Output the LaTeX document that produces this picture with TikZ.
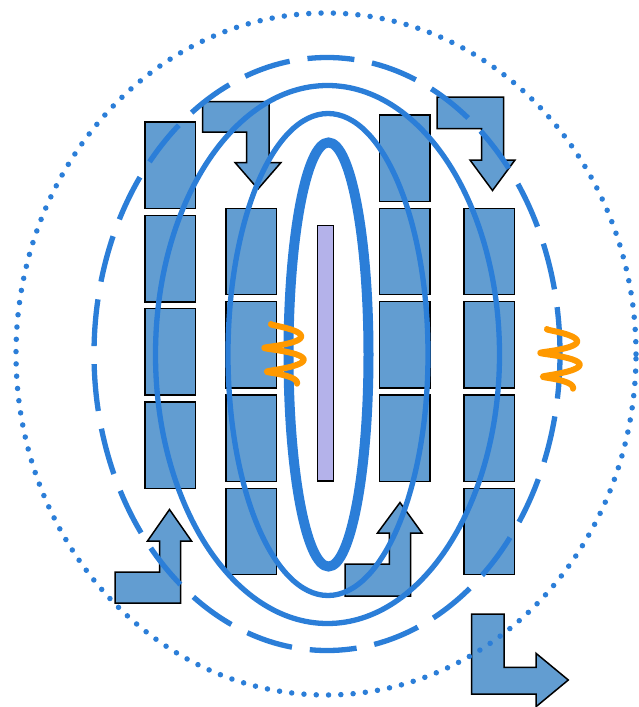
\documentclass[tikz,border=0pt]{standalone}
\definecolor{ringblue}{RGB}{43,126,216}
\definecolor{cellblue}{RGB}{98,157,209}
\definecolor{barfill}{RGB}{180,178,234}
\definecolor{wave}{RGB}{255,153,0}
\tikzset{
  cell/.style={draw=black, line width=1.5pt, fill=cellblue},
  bentarrow/.style={draw=black, line width=1.5pt, fill=cellblue, line join=miter},
  ring/.style={draw=ringblue, line width=5.3pt},
  coilwave/.style={draw=wave, line width=6pt, line cap=round, line join=round}
}
\begin{document}
\begin{tikzpicture}[x=1pt,y=-1pt]
\useasboundingbox (0,0) rectangle (639,707);
% cells
\foreach \t in {122,215.3,308.6,401.9} {\path[cell] (145,\t) rectangle ++(50.7,86.5);}
\foreach \t in {208.3,301.6,395,488.3} {\path[cell] (226,\t) rectangle ++(50.7,86.3);}
\foreach \t in {115,208.3,301.6,395} {\path[cell] (379.3,\t) rectangle ++(50.7,86.3);}
\foreach \t in {208.3,301.6,395,488.3} {\path[cell] (464,\t) rectangle ++(50.7,86.3);}
% central bar
\path[draw=black, line width=1.5pt, fill=barfill] (317.3,225.7) rectangle (333.3,481);
% bent arrows
\path[bentarrow] (202.5,101.5) -- (269,101.5) -- (269,162.5) -- (281,162.5) -- (258,189) -- (235,162.5) -- (246.5,162.5) -- (246.5,132) -- (202.5,132) -- cycle;
\path[bentarrow] (437,97) -- (503.5,97) -- (503.5,160) -- (515,160) -- (492.5,190.5) -- (470,160) -- (481.5,160) -- (481.5,128.5) -- (437,128.5) -- cycle;
\path[bentarrow] (169.5,509.5) -- (191.5,541) -- (180.5,541) -- (180.5,603) -- (115,603) -- (115,572) -- (159.5,572) -- (159.5,541) -- (147.5,541) -- cycle;
\path[bentarrow] (400,502.5) -- (422,533) -- (410.7,533) -- (410.7,596) -- (345,596) -- (345,564) -- (389.3,564) -- (389.3,533) -- (377.5,533) -- cycle;
\path[bentarrow] (471.7,614) -- (504,614) -- (504,667.3) -- (536,667.3) -- (536,653.3) -- (568.3,680) -- (536,706.7) -- (536,694) -- (471.7,694) -- cycle;
% rings
\draw[ringblue, line width=5.5pt, line cap=round, dash pattern=on 0pt off 12.3pt] (326,354) ellipse [x radius=310pt, y radius=341pt];
\draw[ring, dash pattern=on 47pt off 18pt] (327,354) ellipse [x radius=233pt, y radius=296.5pt];
\draw[ring] (327.5,354.5) ellipse [x radius=172pt, y radius=269pt];
\draw[ring] (328,354.5) ellipse [x radius=100pt, y radius=241pt];
\draw[ring, line width=10pt] (328.5,354.5) ellipse [x radius=40pt, y radius=212pt];
% waves
\draw[coilwave] plot[domain=0:5*pi, samples=160, smooth, variable=\t]
  ({284 - (13+7*sin(\t/5 r))*cos(\t r)}, {324 + 3.8*\t - 2.5*sin(\t r)});
\draw[coilwave] plot[domain=0:5*pi, samples=160, smooth, variable=\t]
  ({560 - (13+7*sin(\t/5 r))*cos(\t r)}, {329 + 3.8*\t - 2.5*sin(\t r)});
\end{tikzpicture}
\end{document}
